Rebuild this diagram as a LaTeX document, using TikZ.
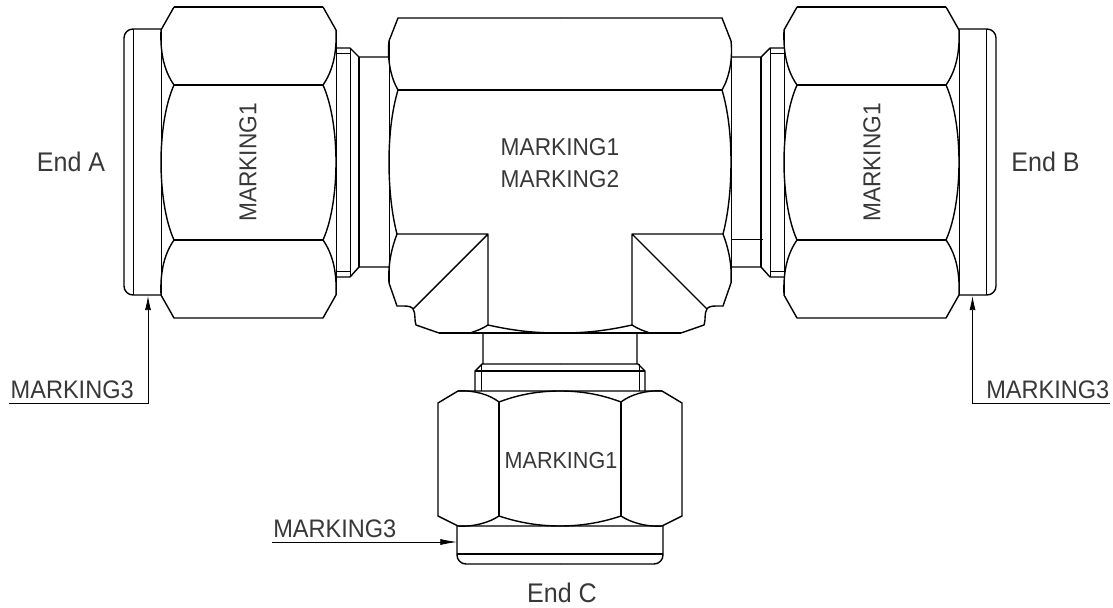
\documentclass[tikz,border=0pt]{standalone}
\usepackage{fontspec}
\setmainfont[FakeStretch=0.93]{Liberation Sans}
\usetikzlibrary{arrows.meta}
\definecolor{marktext}{gray}{0.22}
\tikzset{
  outline/.style = {line width=1.05pt, line join=round},
  thinline/.style = {line width=.5pt},
  leader/.style = {line width=.55pt, -{Latex[length=10.5pt, width=4.5pt]}},
  marklabel/.style = {inner sep=0pt, text=marktext, font=\fontsize{#1}{22}\selectfont},
  marklabel/.default = 18.3,
  half fitting/.pic = {
    % side nut
    \draw[outline] (174,7) -- (323,7);
    \draw[outline] (174,7) -- (161,30) .. controls (160,55) and (165,72) .. (174,85)
      .. controls (165,105) and (161,135) .. (161,162) .. controls (161,190) and (165,220) .. (174,240)
      .. controls (165,253) and (160,270) .. (161,295) -- (174,318) -- (323,318) -- (336,295)
      .. controls (337,270) and (332,253) .. (323,240) .. controls (332,220) and (336,190) .. (336,162)
      .. controls (336,135) and (332,105) .. (323,85) .. controls (332,72) and (337,55) .. (336,30) -- (323,7);
    \draw[outline] (174,85) -- (323,85) (174,240) -- (323,240);
    \draw[thinline] (161,30) -- (161,295) (336,30) -- (336,295);
    % end piece
    \draw[outline] (161,29) -- (133,29) .. controls (128,29) and (124,33) .. (124,38) -- (124,286)
      .. controls (124,291) and (128,295) .. (133,295) -- (161,295);
    \draw[thinline] (133.5,29) -- (133.5,295);
    % collar and neck
    \draw[outline] (336,48) -- (350,48) -- (359,57) -- (389,57);
    \draw[outline] (336,277) -- (350,277) -- (359,267) -- (389,267);
    \draw[outline] (359,57) -- (359,267);
    \draw[thinline] (350,48) -- (350,277) (336,53) -- (350,53) (336,271) -- (350,271);
    % body
    \draw[outline] (560,18) -- (398,18) -- (389,41) .. controls (387,60) and (391,78) .. (398,90)
      .. controls (392,110) and (389,135) .. (389,162) .. controls (389,190) and (392,215) .. (397,234)
      .. controls (391,250) and (388,265) .. (389,283) -- (397,306) -- (404,306)
      .. controls (409,306) and (412,307) .. (413,309) .. controls (416,313) and (414,320) .. (416,325)
      -- (439,333) -- (470,333) .. controls (476,331) and (482,329) .. (488,325)
      .. controls (515,331) and (535,333) .. (560,333);
    \draw[outline] (398,90) -- (560,90);
    \draw[outline] (397,234) -- (488,234) -- (488,325) (488,234) -- (413,309);
    \draw[outline] (439,333) -- (560,333);
    \draw[thinline] (389,41) -- (389,283);
    % lower neck and collar
    \draw[outline] (483,333) -- (483,364) (475,391) -- (475,371) -- (482,364) -- (560,364);
    \draw[outline] (475,371) -- (560,371);
    \draw[thinline] (481,364) -- (481,391);
    % lower nut
    \draw[outline] (560,391) -- (458,391) -- (438,403) -- (438,516) -- (458,526) -- (560,526);
    \draw[outline] (499,402) -- (499,516);
    \draw[outline] (458,391) .. controls (475,390) and (490,395) .. (499,402)
      .. controls (520,394) and (540,391) .. (560,391);
    \draw[outline] (458,526) .. controls (475,527) and (490,522) .. (499,516)
      .. controls (520,523) and (540,526) .. (560,526);
    % end piece below
    \draw[outline] (457,526) -- (457,555) .. controls (457,560) and (461,564) .. (466,564) -- (560,564);
    \draw[outline] (457,554) -- (560,554);
  }
}
\begin{document}
\begin{tikzpicture}[x=0.75pt, y=-0.75pt]
\useasboundingbox (0,0) rectangle (1113,607);

\pic at (0,0) {half fitting};
\pic[xscale=-1] at (1120,0) {half fitting};
\draw[thinline] (731,239) -- (763,239);

\node[marklabel=20.2, anchor=base] (enda) at (71,171) {End A};
\node[marklabel=20.2, anchor=base] (endb) at (1045.5,171) {End B};
\node[marklabel=20.2, anchor=base] (endc) at (562,602) {End C};

\node[marklabel, rotate=90] (nuta) at (248,162.5) {MARKING1};
\node[marklabel, rotate=90] (nutb) at (872,162.5) {MARKING1};
\node[marklabel, anchor=base] (bodyone) at (560,155) {MARKING1};
\node[marklabel, anchor=base] (bodytwo) at (560,187) {MARKING2};
\node[marklabel=17.4, anchor=base] (nutc) at (561,468) {MARKING1};

\node[marklabel=19, anchor=base east] (marka) at (134,398) {MARKING3};
\node[marklabel=19, anchor=base west] (markb) at (986,398) {MARKING3};
\node[marklabel=19, anchor=base west] (markc) at (273,537) {MARKING3};

\coordinate (tipa) at (148,296);
\coordinate (tipb) at (972.5,296);
\coordinate (tipc) at (457,542);
\coordinate (freea) at (9,403);
\coordinate (freeb) at (1110,403);
\coordinate (freec) at (272,542);
\draw[leader] (freea) -| (tipa);
\draw[leader] (freeb) -| (tipb);
\draw[leader, -{Latex[length=12.5pt, width=4.5pt]}] (freec) -- (tipc);
\end{tikzpicture}
\end{document}
